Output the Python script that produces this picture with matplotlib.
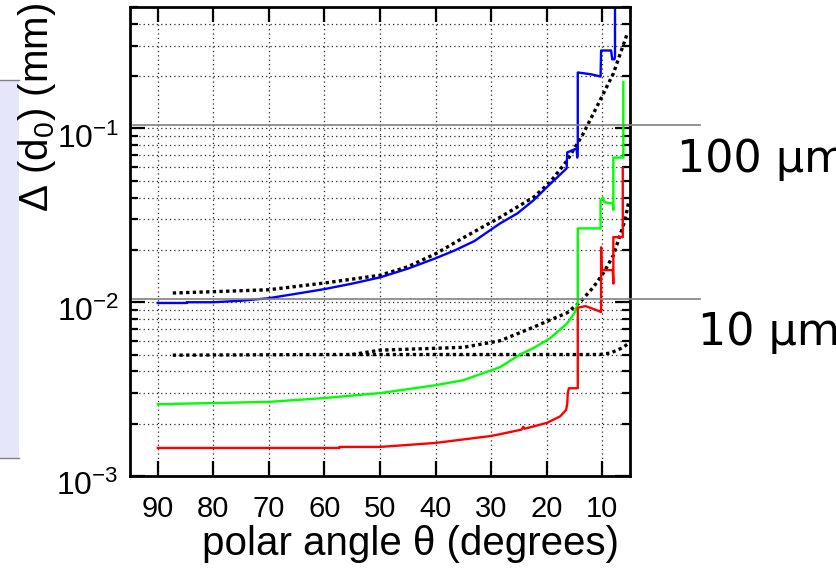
import matplotlib
matplotlib.use("Agg")
import matplotlib.pyplot as plt
from matplotlib.patches import Rectangle
from matplotlib.lines import Line2D
from matplotlib.ticker import LogLocator, NullFormatter
from matplotlib.transforms import ScaledTranslation

plt.rcParams['font.family'] = ['Liberation Sans', 'DejaVu Sans']
plt.rcParams['mathtext.fontset'] = 'custom'
plt.rcParams['mathtext.rm'] = 'Liberation Sans'
plt.rcParams['mathtext.it'] = 'Liberation Sans:italic'

# blue curve (theta in degrees, resolution in mm)
blue_theta = [90, 84.8, 84.8, 80, 75, 70, 65, 60, 55, 50, 45, 40, 36.5, 33, 30, 28.4, 25.3,
              22.4, 20, 18.1, 16.4, 16.3, 14.6, 14.5, 14.4, 14.4, 12, 10.3, 10.2, 8.4, 8.2, 7.8, 7.7, 7.7]
blue_val = [0.0099, 0.0099, 0.0100, 0.0100, 0.0102, 0.01055, 0.0112, 0.0119, 0.0128, 0.0139, 0.0156, 0.0179,
            0.0199, 0.0225, 0.0262, 0.0284, 0.0324, 0.0385, 0.0458, 0.0523, 0.059, 0.0728, 0.0767, 0.068,
            0.075, 0.21, 0.205, 0.199, 0.281, 0.281, 0.25, 0.25, 0.26, 0.6]

# green curve
green_theta = [90, 87.3, 87.3, 70, 60, 50, 40, 35, 28.4, 24.8, 22.4, 19.4, 16.3, 14.9, 14.4, 14.4,
               10.3, 10.3, 9.9, 9.6, 8.1, 8.0, 8.0, 6.2, 6.2]
green_val = [0.00259, 0.00259, 0.0026, 0.00267, 0.00281, 0.0030, 0.00333, 0.00356, 0.00423, 0.0050, 0.00544,
             0.0062, 0.00757, 0.00877, 0.0099, 0.0266, 0.0266, 0.0385, 0.040, 0.0376, 0.037, 0.034, 0.068,
             0.068, 0.185]

# red curve
red_theta = [90, 57.3, 57.3, 50, 40, 30, 28.4, 24.5, 24.2, 24, 20, 17.6, 16.5, 16.3, 16.2, 16.0, 14.4,
             14.4, 13, 11, 10.3, 10.2, 10.2, 10.1, 8.1, 8.0, 8.0, 6.3, 6.3]
red_val = [0.00145, 0.00145, 0.00147, 0.00147, 0.00155, 0.0017, 0.00174, 0.00185, 0.00192, 0.00187, 0.00202,
           0.0022, 0.0024, 0.0026, 0.003, 0.0032, 0.0032, 0.0093, 0.0095, 0.009, 0.0088, 0.0088, 0.0207,
           0.0153, 0.0153, 0.0128, 0.0237, 0.0237, 0.059]

# black dotted curves
dot1_theta = [87.3, 80, 70, 60, 50, 45, 40, 35, 28.4, 22.4, 19.4, 16.3, 13.4, 10.4, 8.0, 5.5]
dot1_val = [0.0113, 0.0115, 0.0118, 0.0129, 0.0143, 0.0160, 0.0190, 0.0235, 0.0308, 0.0401, 0.049, 0.0655,
            0.0936, 0.145, 0.207, 0.351]

dot2_theta = [87.3, 60, 40, 20, 10.5, 8.5, 6.2, 5.3]
dot2_val = [0.00496, 0.0050, 0.0050, 0.0050, 0.0050, 0.0051, 0.0055, 0.0058]

dot3_theta = [55, 50, 35, 28.4, 22.4, 19.4, 16.3, 14.0, 11.6, 9.8, 8.0, 7.1, 5.9, 5.3]
dot3_val = [0.0050, 0.0053, 0.0055, 0.0060, 0.00718, 0.0079, 0.0087, 0.0100, 0.0122, 0.0147, 0.0186,
            0.0227, 0.0296, 0.037]

x_ticks = [90, 80, 70, 60, 50, 40, 30, 20, 10]
y_ticks = [1e-3, 1e-2, 1e-1]
y_ticklabels = ['$10^{-3}$', '$10^{-2}$', '$10^{-1}$']

fig = plt.figure(figsize=(8.36, 5.71), dpi=100)
ax = fig.add_axes([130 / 836, 1 - 476 / 571, 500 / 836, 469 / 571])

ax.set_yscale('log')
ax.set_xlim(95, 5)
ax.set_ylim(1e-3, 0.5)

dots = dict(color='black', lw=2.4, linestyle=(0, (1, 1)), dash_capstyle='butt')
ax.plot(dot1_theta, dot1_val, **dots)
ax.plot(dot2_theta, dot2_val, **dots)
ax.plot(dot3_theta, dot3_val, **dots)
ax.plot(blue_theta, blue_val, color='#0000ff', lw=1.7)
ax.plot(green_theta, green_val, color='#00ff00', lw=1.7)
ax.plot(red_theta, red_val, color='#ff0000', lw=1.7)

ax.set_xticks(x_ticks)
ax.set_yticks(y_ticks)
ax.set_yticklabels(y_ticklabels)
ax.yaxis.set_minor_locator(LogLocator(base=10, subs=range(2, 10)))
ax.yaxis.set_minor_formatter(NullFormatter())

ax.tick_params(axis='both', which='major', direction='in', length=11, width=1.6,
               top=True, right=True)
ax.tick_params(axis='both', which='minor', direction='in', length=6, width=1.6,
               top=False, right=True)
ax.tick_params(axis='x', pad=14, labelsize=21)
ax.tick_params(axis='y', pad=8, labelsize=23)

# y tick labels sit a little below their ticks in the original
for lab in ax.get_yticklabels():
    lab.set_transform(lab.get_transform() + ScaledTranslation(0, -5 / 72, fig.dpi_scale_trans))

ax.grid(True, which='both', axis='y', color='0.15', lw=0.9, linestyle=(0, (1, 2.5)))
ax.grid(True, which='major', axis='x', color='0.15', lw=0.9, linestyle=(0, (1, 2.5)))
for s in ax.spines.values():
    s.set_linewidth(2.0)

# light panel on the far left
fig.add_artist(Rectangle((0, 1 - 458 / 571), 19 / 836, 378 / 571, transform=fig.transFigure,
                         facecolor='#e6e6fa', edgecolor='none'))
fig.add_artist(Line2D([0, 19 / 836], [1 - 80 / 571] * 2, color='0.5', lw=1))
fig.add_artist(Line2D([0, 19 / 836], [1 - 458 / 571] * 2, color='0.5', lw=1))

# reference lines at 100 um and 10 um
fig.add_artist(Line2D([133 / 836, 700 / 836], [1 - 125 / 571] * 2, color='0.5', lw=1.2))
fig.add_artist(Line2D([133 / 836, 700 / 836], [1 - 299 / 571] * 2, color='0.5', lw=1.2))
fig.text(677 / 836, 1 - 172 / 571, '100 μm', fontsize=32, family='DejaVu Sans', va='baseline')
fig.text(698 / 836, 1 - 345 / 571, '10 μm', fontsize=32, family='DejaVu Sans', va='baseline')

fig.text(37 / 836, 1 - 108 / 571, 'Δ (d$_0$) (mm)', fontsize=29, rotation=90, ha='center', va='center')
fig.text(410 / 836, 1 - 555 / 571, 'polar angle θ (degrees)', fontsize=29, ha='center', va='baseline')

fig.savefig('out.png', dpi=100)
